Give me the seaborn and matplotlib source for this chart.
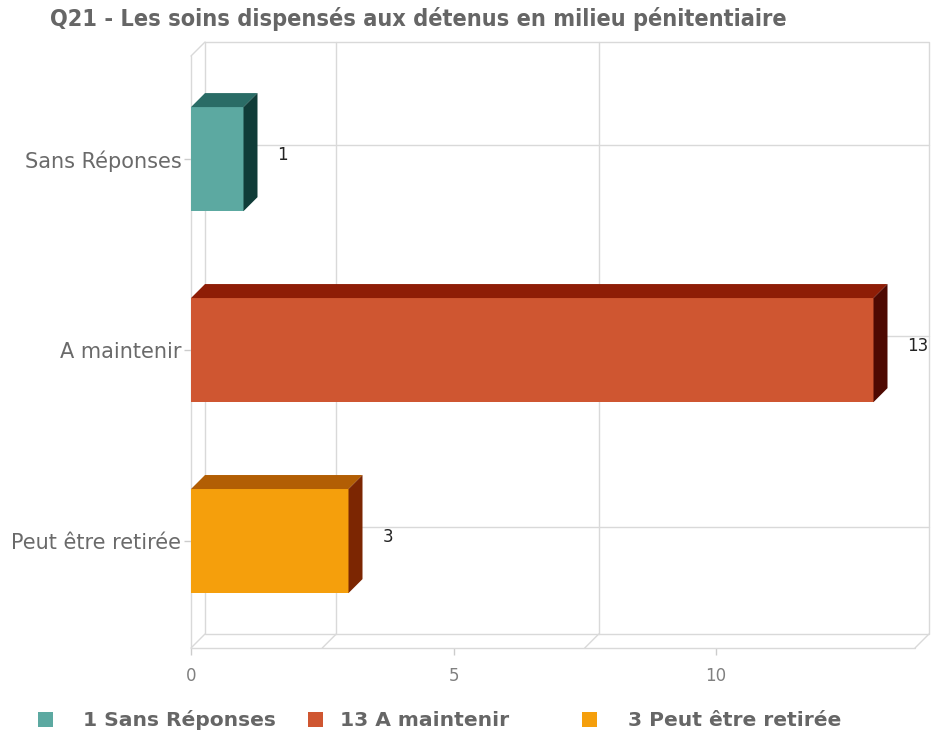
import matplotlib
matplotlib.use("Agg")
import matplotlib.pyplot as plt
import seaborn as sns
import pandas as pd
from matplotlib.patches import Polygon, Rectangle

# --- data -------------------------------------------------------------
categories = ["Sans Réponses", "A maintenir", "Peut être retirée"]
counts = [1, 13, 3]
x_ticks = [0, 5, 10]
back_grid_x = [2.5, 7.5]
title = "Q21 - Les soins dispensés aux détenus en milieu pénitentiaire"

front_colors = ["#5ca9a1", "#cf5631", "#f59f0c"]
top_colors = ["#2a6c66", "#8e1d06", "#b25e04"]
side_colors = ["#103c38", "#4e0902", "#7c2602"]

# --- figure -----------------------------------------------------------
sns.set_theme(style="white")
plt.rcParams["font.family"] = ["DejaVu Sans"]

W, H = 935, 736
fig = plt.figure(figsize=(W / 100, H / 100), dpi=100)
fig.patch.set_facecolor("white")


def fx(px):
    return px / W


def fy(py):
    return 1 - py / H


ax = fig.add_axes([fx(191), fy(648), fx(915) - fx(191), fy(56) - fy(648)])
df = pd.DataFrame({"categorie": categories, "reponses": counts})
sns.barplot(data=df, y="categorie", x="reponses", hue="categorie",
            palette=front_colors, width=0.545, saturation=1, legend=False,
            ax=ax, zorder=4)

xmax = (915 - 191) / 52.5
ytop, ybot = -0.54, 2.56
ax.set_xlim(0, xmax)
ax.set_ylim(ybot, ytop)
ax.set_facecolor("none")
for s in ax.spines.values():
    s.set_visible(False)
ax.grid(False)
ax.set_xlabel("")
ax.set_ylabel("")

# depth of the pseudo-3D box, converted from pixels to data units
DEPTH_PX = 14
p0 = ax.transData.transform((0, 0))
p1 = ax.transData.transform((1, 1))
dx = DEPTH_PX / (p1[0] - p0[0])
dy = DEPTH_PX / (p1[1] - p0[1])  # negative axis direction (inverted y)

grid_kw = dict(color="#d9d9d9", lw=1.0, clip_on=False, zorder=1)

# back wall
ax.plot([dx, xmax + dx, xmax + dx, dx, dx],
        [ytop + dy, ytop + dy, ybot + dy, ybot + dy, ytop + dy], **grid_kw)
for gx in back_grid_x:
    ax.plot([gx + dx, gx + dx], [ytop + dy, ybot + dy], **grid_kw)
    ax.plot([gx, gx + dx], [ybot, ybot + dy], **grid_kw)
for i in range(len(categories)):
    ax.plot([dx, xmax + dx], [i + dy, i + dy], **grid_kw)
# left wall and floor
ax.plot([0, 0], [ytop, ybot], **grid_kw)
ax.plot([0, dx], [ytop, ytop + dy], **grid_kw)
ax.plot([0, dx], [ybot, ybot + dy], **grid_kw)
ax.plot([0, xmax], [ybot, ybot], **grid_kw)
ax.plot([xmax, xmax + dx], [ybot, ybot + dy], **grid_kw)

# top and side faces of each bar
for i, patch in enumerate(ax.patches[:len(categories)]):
    x0, y0 = patch.get_x(), patch.get_y()
    w, h = patch.get_width(), patch.get_height()
    patch.set_edgecolor("none")
    top = Polygon([(x0, y0), (x0 + w, y0), (x0 + w + dx, y0 + dy), (x0 + dx, y0 + dy)],
                  closed=True, facecolor=top_colors[i], edgecolor="none",
                  clip_on=False, zorder=4)
    side = Polygon([(x0 + w, y0), (x0 + w + dx, y0 + dy),
                    (x0 + w + dx, y0 + h + dy), (x0 + w, y0 + h)],
                   closed=True, facecolor=side_colors[i], edgecolor="none",
                   clip_on=False, zorder=4)
    ax.add_patch(top)
    ax.add_patch(side)

# value labels
for i, v in enumerate(counts):
    ax.annotate(str(v), xy=(v, i), xytext=(DEPTH_PX + 20, 4),
                textcoords="offset pixels", ha="left", va="center",
                fontsize=12, color="#222222", zorder=5,
                annotation_clip=False)

# ticks
ax.set_xticks(x_ticks)
ax.set_xticklabels([str(t) for t in x_ticks])
ax.tick_params(axis="x", bottom=True, length=5, width=1, color="#cccccc",
               pad=9, labelsize=12, labelcolor="#808080")
ax.tick_params(axis="y", left=True, length=5, width=1, color="#cccccc",
               pad=2, labelsize=15, labelcolor="#6a6a6a")

# title
fig.text(fx(50), fy(19), title, ha="left", va="center", fontsize=16.8,
         fontweight="bold", fontstretch="condensed", color="#666666")

# legend
legend_items = [(f"{n} {c}", col) for c, n, col in zip(categories, counts, front_colors)]
marker_x = [38, 308, 582]
text_x = [83, 340, 628]
for (label, col), mx, tx in zip(legend_items, marker_x, text_x):
    fig.patches.append(Rectangle((fx(mx), fy(727)), 15 / W, 15 / H,
                                 transform=fig.transFigure, facecolor=col,
                                 edgecolor="none"))
    fig.text(fx(tx), fy(720), label, ha="left", va="center", fontsize=14.6,
             fontweight="bold", color="#666666")

fig.savefig("out.png", dpi=100, facecolor="white")
